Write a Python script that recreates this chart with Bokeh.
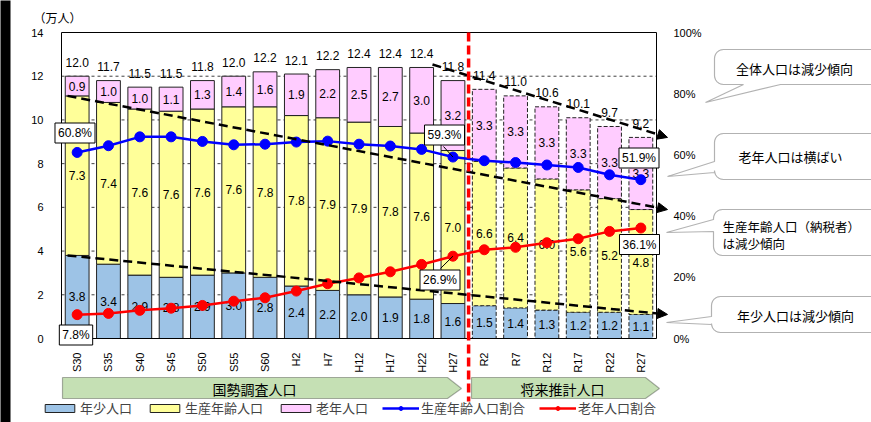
import numpy as np
from bokeh.plotting import figure
from bokeh.models import (Range1d, LinearAxis, FixedTicker, PrintfTickFormatter,
                          ColumnDataSource, Label, Arrow, NormalHead, PolyAnnotation, Legend, LegendItem)
from bokeh.core.properties import value
from bokeh.embed import file_html
from bokeh.resources import INLINE

# ---------------- data ----------------
years = ["S30", "S35", "S40", "S45", "S50", "S55", "S60", "H2", "H7", "H12", "H17", "H22", "H27",
         "R2", "R7", "R12", "R17", "R22", "R27"]
young = [3.8, 3.4, 2.9, 2.8, 2.9, 3.0, 2.8, 2.4, 2.2, 2.0, 1.9, 1.8, 1.6, 1.5, 1.4, 1.3, 1.2, 1.2, 1.1]
working = [7.3, 7.4, 7.6, 7.6, 7.6, 7.6, 7.8, 7.8, 7.9, 7.9, 7.8, 7.6, 7.0, 6.6, 6.4, 6.0, 5.6, 5.2, 4.8]
old = [0.9, 1.0, 1.0, 1.1, 1.3, 1.4, 1.6, 1.9, 2.2, 2.5, 2.7, 3.0, 3.2, 3.3, 3.3, 3.3, 3.3, 3.3, 3.3]
total = [12.0, 11.7, 11.5, 11.5, 11.8, 12.0, 12.2, 12.1, 12.2, 12.4, 12.4, 12.4, 11.8,
         11.4, 11.0, 10.6, 10.1, 9.7, 9.2]
working_pct = [60.8, 63.0, 65.9, 65.9, 64.4, 63.3, 63.5, 64.2, 64.5, 63.5, 62.9, 61.8, 59.3,
               58.1, 57.5, 56.7, 55.9, 53.5, 51.9]
old_pct = [7.8, 8.2, 9.2, 9.9, 10.8, 12.2, 13.3, 15.5, 17.9, 19.8, 21.8, 24.2, 26.9,
           29.0, 29.8, 31.3, 32.6, 35.0, 36.1]
n_census = 13          # S30..H27 are census values, R2.. are projections
left_ticks = [0, 2, 4, 6, 8, 10, 12, 14]
right_ticks = [0, 20, 40, 60, 80, 100]

series_names = ["年少人口", "生産年齢人口", "老年人口", "生産年齢人口割合", "老年人口割合"]
group_names = ["国勢調査人口", "将来推計人口"]
callout_texts = ["全体人口は減少傾向", "老年人口は横ばい", "生産年齢人口（納税者）", "は減少傾向", "年少人口は減少傾向"]
unit_text = "（万人）"

# ---------------- styling / layout ----------------
C_YOUNG, C_WORK, C_OLD = "#9DC3E6", "#FFFF99", "#FFCCFF"
C_BLUE, C_RED, C_GREEN = "#0000FF", "#FF0000", "#C5E0B4"
NUM_FONT = value("Liberation Sans")
JP_FONT = "Noto Sans CJK JP"

W, H = 871, 422
PL, PR, PT, PB = 61, 656, 32, 338      # plot box in page pixels
N = len(years)
YMAX = 14.0
XPP = N / (PR - PL)                    # x units per pixel
YPP = YMAX / (PB - PT)                 # y units per pixel

x_range = Range1d(-PL * XPP, (W - PL) * XPP)
y_range = Range1d(-(H - PB) * YPP, YMAX + PT * YPP)

p = figure(width=W, height=H, x_range=x_range, y_range=y_range, min_border=0,
           title=None, output_backend="svg", toolbar_location=None)
p.extra_y_ranges = {"pct": Range1d(y_range.start / YMAX * 100, y_range.end / YMAX * 100)}
p.outline_line_color = None
p.background_fill_color = "white"
p.border_fill_color = "white"
p.xgrid.visible = False
p.ygrid.visible = False


def dx(px):
    return (px - PL) * XPP


def dy(py):
    return (PB - py) * YPP


def pct_y(py):
    return (PB - py) / (PB - PT) * 100


xpos = [i + 0.5 for i in range(N)]

# dark strip at the left edge of the original screenshot
p.add_layout(PolyAnnotation(xs=[dx(-2), dx(10), dx(10), dx(-2)], ys=[dy(-2), dy(-2), dy(H + 2), dy(H + 2)],
                            fill_color="black", fill_alpha=1, line_color=None))

# ---------------- axes (fixed at the plot box edges) ----------------
def style_axis(ax, standoff):
    ax.axis_line_color = None
    ax.major_tick_line_color = None
    ax.minor_tick_line_color = None
    ax.major_label_text_font = "Liberation Sans"
    ax.major_label_text_font_size = "11px"
    ax.major_label_text_color = "black"
    ax.major_label_standoff = standoff

yax = p.yaxis[0]
yax.fixed_location = 0
yax.ticker = FixedTicker(ticks=left_ticks)
yax.bounds = (0, YMAX)
style_axis(yax, 12)

xax = p.xaxis[0]
xax.fixed_location = 0
xax.ticker = FixedTicker(ticks=xpos)
xax.major_label_overrides = {x: lab for x, lab in zip(xpos, years)}
xax.major_label_orientation = np.pi / 2
xax.bounds = (0, N)
style_axis(xax, 8)

rax = LinearAxis(y_range_name="pct", ticker=FixedTicker(ticks=right_ticks),
                 formatter=PrintfTickFormatter(format="%d%%"), fixed_location=N, bounds=(0, 100))
style_axis(rax, 11)
p.add_layout(rax, "right")

# gridlines inside the plot box
grid_y = left_ticks[1:-1]
p.segment(x0=[0] * len(grid_y), x1=[N] * len(grid_y), y0=grid_y, y1=grid_y,
          line_color="#404040", line_width=1, line_dash="3 3")

# ---------------- bars ----------------
y = np.array(young)
w = np.array(working)
o = np.array(old)
b1 = y
b2 = y + w
b3 = y + w + o

bar_renderers = {}
for part, sl, dash in (("past", slice(0, n_census), "solid"), ("future", slice(n_census, N), "4 2")):
    src = ColumnDataSource(dict(x=xpos[sl], b0=[0] * len(xpos[sl]), b1=b1[sl], b2=b2[sl], b3=b3[sl]))
    rs = []
    for bottom, top, col in (("b0", "b1", C_YOUNG), ("b1", "b2", C_WORK), ("b2", "b3", C_OLD)):
        r = p.vbar(x="x", bottom=bottom, top=top, width=0.76, source=src, fill_color=col,
                   line_color="#222222", line_width=1, line_dash=dash)
        rs.append(r)
    bar_renderers[part] = rs

# plot box
p.quad(left=[0], right=[N], bottom=[0], top=[YMAX], fill_color=None, line_color="black", line_width=1)


def fmt(vals):
    return ["%.1f" % v for v in vals]

lab_src = ColumnDataSource(dict(
    x=xpos * 3,
    y=list(y / 2) + list(y + w / 2) + list(y + w + o / 2),
    t=fmt(young) + fmt(working) + fmt(old)))
p.text(x="x", y="y", text="t", source=lab_src, text_align="center", text_baseline="middle",
       text_font=NUM_FONT, text_font_size="12px", text_color="black")

tot_src = ColumnDataSource(dict(x=xpos, y=list(b3), t=fmt(total)))
p.text(x="x", y="y", text="t", source=tot_src, text_align="center", text_baseline="middle",
       y_offset=-14, text_font=NUM_FONT, text_font_size="12px", text_color="black")

# ---------------- ratio lines ----------------
rw_line = p.line(x=xpos, y=working_pct, y_range_name="pct", line_color=C_BLUE, line_width=2.5)
rw_dot = p.scatter(x=xpos, y=working_pct, y_range_name="pct", size=10, fill_color=C_BLUE,
                   line_color=C_BLUE)
ro_line = p.line(x=xpos, y=old_pct, y_range_name="pct", line_color=C_RED, line_width=2.5)
ro_dot = p.scatter(x=xpos, y=old_pct, y_range_name="pct", size=10, fill_color=C_RED,
                   line_color=C_RED)

# leader lines for the H27 boxes
h27 = xpos[n_census - 1]
p.segment(x0=[dx(443)], y0=[pct_y(146)], x1=[h27], y1=[working_pct[n_census - 1]],
          y_range_name="pct", line_color="black", line_width=1)
p.segment(x0=[dx(440)], y0=[pct_y(268)], x1=[h27], y1=[old_pct[n_census - 1]],
          y_range_name="pct", line_color="black", line_width=1)

# ---------------- trend arrows ----------------
trends = [
    (dx(67), young[0] + working[0], dx(667), young[-1] + working[-1]),
    (dx(432), dy(64), dx(667), total[-1]),
    (dx(67), young[0], dx(667), young[-1]),
]
for xs_, ys_, xe_, ye_ in trends:
    p.add_layout(Arrow(end=NormalHead(size=10, fill_color="black", line_color="black"),
                       x_start=xs_, y_start=ys_, x_end=xe_, y_end=ye_,
                       line_color="black", line_width=2.5, line_dash="9 5"))

# red divider between census and projection
p.add_layout(Arrow(end=None, x_start=n_census, y_start=YMAX, x_end=n_census, y_end=dy(401),
                   line_color=C_RED, line_width=3.5, line_dash="9 4"))

# ---------------- percentage boxes ----------------
pct_boxes = [
    ("%.1f%%" % working_pct[0], 74.5, 132.5),
    ("%.1f%%" % old_pct[0], 75.5, 334.5),
    ("%.1f%%" % working_pct[n_census - 1], 444, 134.5),
    ("%.1f%%" % old_pct[n_census - 1], 439.5, 279.5),
    ("%.1f%%" % working_pct[-1], 638.5, 157.5),
    ("%.1f%%" % old_pct[-1], 639, 244),
]
for txt, cx, cy in pct_boxes:
    p.add_layout(Label(x=dx(cx), y=dy(cy), text=txt, text_align="center", text_baseline="middle",
                       text_font="Liberation Sans", text_font_size="12px", text_color="black",
                       background_fill_color="white", border_line_color="black",
                       border_line_width=1, padding=3))

# ---------------- unit label ----------------
p.add_layout(Label(x=dx(33), y=dy(17), text=unit_text, text_align="left", text_baseline="middle",
                   text_font=JP_FONT, text_font_size="12px", text_color="black"))

# ---------------- group banners ----------------
banners = [
    ([62, 447, 461, 447, 62], [377, 377, 388, 398, 398], group_names[0], 254),
    ([471, 645, 659, 645, 471], [377, 377, 388, 398, 398], group_names[1], 562),
]
for bx, by, name, tx in banners:
    p.add_layout(PolyAnnotation(xs=[dx(v) for v in bx], ys=[dy(v) for v in by],
                                fill_color=C_GREEN, fill_alpha=1, line_color="black", line_width=1.2))
    p.add_layout(Label(x=dx(tx), y=dy(388), text=name, text_align="center", text_baseline="middle",
                       text_font=JP_FONT, text_font_size="14px", text_color="black"))

# ---------------- callouts ----------------
def callout(x0, y0, x1, y1, r, side, base, tip):
    pts = []

    def arc(cx, cy, a0, a1):
        for t in np.linspace(a0, a1, 7):
            pts.append((cx + r * np.cos(t), cy + r * np.sin(t)))
    pts.append((x0 + r, y0))
    arc(x1 - r, y0 + r, -np.pi / 2, 0)
    arc(x1 - r, y1 - r, 0, np.pi / 2)
    if side == "bottom":
        pts.extend([(base[1], y1), tip, (base[0], y1)])
    arc(x0 + r, y1 - r, np.pi / 2, np.pi)
    if side == "left":
        pts.extend([(x0, base[1]), tip, (x0, base[0])])
    arc(x0 + r, y0 + r, np.pi, 1.5 * np.pi)
    p.add_layout(PolyAnnotation(xs=[dx(a) for a, _ in pts], ys=[dy(b) for _, b in pts],
                                fill_color="white", fill_alpha=1, line_color="black", line_width=1.2))

callout(714, 49, 885, 84, 9, "bottom", (743, 780), (705, 102))
callout(714, 133, 885, 179, 9, "left", (161, 172), (667, 176))
callout(713, 209, 885, 255, 9, "left", (219, 231), (666, 232))
callout(711, 296, 885, 332, 9, "left", (316, 324), (666, 322))

callout_pos = [(794, 68, "center", "13px"), (790, 156, "center", "13px"),
               (722, 226, "left", "12.5px"), (722, 243, "left", "12.5px"),
               (795, 315, "center", "13px")]
for txt, (cx, cy, al, fs) in zip(callout_texts, callout_pos):
    p.add_layout(Label(x=dx(cx), y=dy(cy), text=txt, text_align=al, text_baseline="middle",
                       text_font=JP_FONT, text_font_size=fs, text_color="black"))

# ---------------- legend ----------------
legend = Legend(items=[
    LegendItem(label=series_names[0], renderers=[bar_renderers["past"][0]]),
    LegendItem(label=series_names[1], renderers=[bar_renderers["past"][1]]),
    LegendItem(label=series_names[2], renderers=[bar_renderers["past"][2]]),
    LegendItem(label=series_names[3], renderers=[rw_line, rw_dot]),
    LegendItem(label=series_names[4], renderers=[ro_line, ro_dot]),
], orientation="horizontal", location=(41, 5), glyph_width=37, glyph_height=10,
    label_standoff=2, spacing=14, padding=0, margin=0, border_line_color=None,
    background_fill_alpha=0, label_text_font=JP_FONT, label_text_font_size="13px",
    label_height=14)
p.add_layout(legend, "center")

open("out.html", "w").write(file_html(p, INLINE))
